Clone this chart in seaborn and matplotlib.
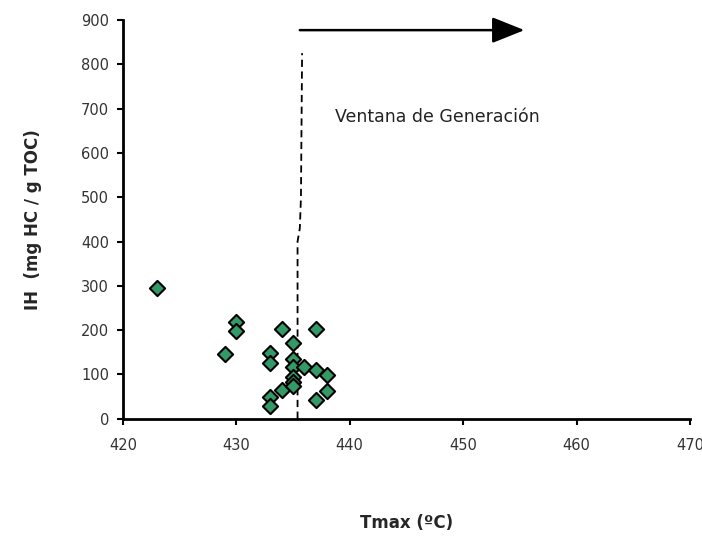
import matplotlib.pyplot as plt
import seaborn as sns
import pandas as pd

# datos
tmax = [423, 430, 430, 429, 433, 433, 433, 433, 434, 434, 435, 435, 435, 435, 435, 435, 436, 437, 437, 437, 438, 438]
ih = [295, 218, 198, 146, 148, 127, 50, 29, 203, 65, 170, 135, 118, 95, 84, 74, 118, 203, 109, 43, 99, 62]

# limite de la ventana de generacion (linea discontinua)
lim_x = [435.4, 435.4, 435.6, 435.7, 435.8]
lim_y = [0, 400, 430, 500, 825]

xticks = [420, 430, 440, 450, 460, 470]
yticks = [0, 100, 200, 300, 400, 500, 600, 700, 800, 900]

dt = pd.DataFrame({'Tmax': tmax, 'IH': ih})

sns.set_style('ticks')
plt.rcParams['font.family'] = ['DejaVu Sans']

fig = plt.figure(figsize=(7.02, 5.39), dpi=100)
ax = fig.add_axes([0.175, 0.223, 0.808, 0.74])

sns.scatterplot(data=dt, x='Tmax', y='IH', marker='D', s=60, color='#339966',
                edgecolor='black', linewidth=1.5, ax=ax, zorder=3)
ax.plot(lim_x, lim_y, color='black', linestyle=(0, (4, 2.5)), linewidth=1.3, zorder=2)

ax.annotate('', xy=(455.4, 877), xytext=(435.6, 877),
            arrowprops=dict(arrowstyle='-|>,head_length=2.0,head_width=0.8',
                            color='black', lw=1.8, shrinkA=0, shrinkB=0))
ax.text(438.7, 681, 'Ventana de Generación', fontsize=12.5, va='center', ha='left',
        color='#222222')

ax.set_xlim(420, 470)
ax.set_ylim(0, 900)
ax.set_xticks(xticks)
ax.set_yticks(yticks)
ax.tick_params(labelsize=10.5, width=1.5, length=4, colors='black', labelcolor='#333333')
ax.tick_params(axis='x', pad=10)
ax.tick_params(axis='y', pad=6)
sns.despine(ax=ax)
for s in ['left', 'bottom']:
    ax.spines[s].set_linewidth(2)
    ax.spines[s].set_color('black')

ax.set_xlabel('Tmax (ºC)', fontsize=12, fontweight='bold', labelpad=44)
ax.set_ylabel('IH  (mg HC / g TOC)', fontsize=12, fontweight='bold', labelpad=28)

fig.savefig('out.png', dpi=100)
